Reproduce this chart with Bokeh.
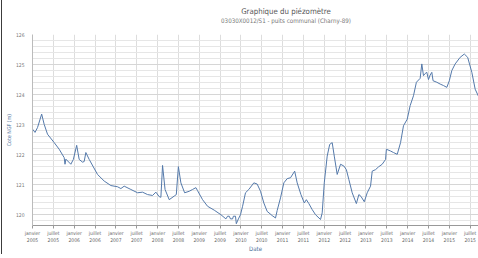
from bokeh.plotting import figure
from bokeh.models import Range1d, FixedTicker, SingleIntervalTicker, Div
from bokeh.layouts import column
from bokeh.embed import file_html
from bokeh.resources import INLINE

# --- data (decimal year, water level m NGF) ---
dates = [2005.00, 2005.06, 2005.12, 2005.22, 2005.28, 2005.36, 2005.52, 2005.64, 2005.76, 2005.78,
         2005.80, 2005.92, 2005.98, 2006.06, 2006.12, 2006.20, 2006.24, 2006.28, 2006.36, 2006.56,
         2006.72, 2006.88, 2007.04, 2007.12, 2007.20, 2007.36, 2007.52, 2007.64, 2007.76, 2007.88,
         2007.96, 2008.04, 2008.08, 2008.12, 2008.18, 2008.28, 2008.40, 2008.45, 2008.50, 2008.56,
         2008.65, 2008.76, 2008.84, 2008.92, 2008.96, 2009.08, 2009.20, 2009.36, 2009.52, 2009.64,
         2009.68, 2009.72, 2009.75, 2009.80, 2009.82, 2009.87, 2009.89, 2009.94, 2009.99, 2010.04,
         2010.11, 2010.19, 2010.31, 2010.39, 2010.47, 2010.55, 2010.63, 2010.75, 2010.83, 2010.87,
         2010.95, 2011.03, 2011.11, 2011.19, 2011.29, 2011.35, 2011.44, 2011.52, 2011.57, 2011.63,
         2011.71, 2011.79, 2011.91, 2011.95, 2012.00, 2012.07, 2012.13, 2012.19, 2012.24, 2012.31,
         2012.39, 2012.47, 2012.53, 2012.59, 2012.67, 2012.77, 2012.83, 2012.88, 2012.96, 2013.03,
         2013.11, 2013.15, 2013.23, 2013.30, 2013.39, 2013.47, 2013.49, 2013.59, 2013.66, 2013.75,
         2013.83, 2013.90, 2013.99, 2014.06, 2014.14, 2014.21, 2014.30, 2014.34, 2014.38, 2014.42,
         2014.46, 2014.50, 2014.54, 2014.58, 2014.61, 2014.70, 2014.78, 2014.86, 2014.94, 2015.00,
         2015.06, 2015.14, 2015.26, 2015.36, 2015.44, 2015.54, 2015.62, 2015.73]
levels = [122.85, 122.74, 122.90, 123.35, 123.01, 122.68, 122.40, 122.18, 121.90, 121.68,
          121.85, 121.68, 121.84, 122.31, 121.84, 121.75, 121.77, 122.07, 121.84, 121.34,
          121.12, 120.97, 120.93, 120.87, 120.95, 120.84, 120.73, 120.75, 120.67, 120.64,
          120.75, 120.60, 120.58, 121.64, 120.84, 120.50, 120.62, 120.67, 121.60, 121.06,
          120.73, 120.78, 120.84, 120.90, 120.80, 120.50, 120.28, 120.15, 120.00, 119.86,
          119.95, 119.95, 119.86, 119.86, 119.95, 119.95, 119.70, 119.86, 120.00, 120.28,
          120.73, 120.84, 121.06, 121.02, 120.78, 120.39, 120.11, 119.97, 119.89, 120.14,
          120.56, 121.06, 121.20, 121.23, 121.45, 121.06, 120.67, 120.39, 120.50, 120.37,
          120.17, 120.00, 119.84, 120.06, 121.06, 121.95, 122.34, 122.40, 121.95, 121.34,
          121.68, 121.62, 121.50, 121.17, 120.73, 120.37, 120.67, 120.61, 120.43, 120.73,
          120.95, 121.45, 121.50, 121.59, 121.68, 121.84, 122.18, 122.12, 122.07, 122.01,
          122.40, 122.96, 123.18, 123.63, 123.96, 124.41, 124.54, 125.02, 124.63, 124.70,
          124.74, 124.50, 124.65, 124.74, 124.46, 124.41, 124.35, 124.30, 124.24, 124.46,
          124.80, 125.02, 125.24, 125.35, 125.24, 124.74, 124.18, 123.85]

years = list(range(2005, 2016))
months = ["janvier", "juillet"]

title_text = "Graphique du piézomètre"
subtitle_text = "03030X0012/S1 - puits communal (Charny-89)"

FONT = "'Liberation Sans Narrow', 'DejaVu Sans Condensed', 'Open Sans', sans-serif"

header = Div(
    text=(
        f'<div style="width:220px; margin-left:174px; text-align:center; '
        f'font-family:{FONT}; white-space:nowrap;">'
        f'<div style="font-size:7.8px; line-height:8px; padding-top:8px; color:#555555;">{title_text}</div>'
        f'<div style="font-size:6.2px; line-height:7px; margin-top:1px; color:#777777;">{subtitle_text}</div>'
        f'</div>'
    ),
    width=466, height=30, margin=(0, 0, 0, 0),
)

p = figure(frame_width=446, frame_height=191, output_backend="svg", toolbar_location=None,
           x_range=Range1d(2005.0, 2015.70), y_range=Range1d(119.64, 126.0),
           min_border_left=18, min_border_right=0, min_border_top=4, min_border_bottom=0,
           margin=(0, 0, 0, 0))
p.outline_line_color = None
p.background_fill_color = "white"
p.border_fill_color = "white"

# line
p.line(dates, levels, line_color="#5479aa", line_width=1)

# x axis
tick_vals = []
overrides = {}
for yr in years:
    for i, m in enumerate(months):
        t = yr + 0.5 * i
        tick_vals.append(t)
        overrides[t] = f"{m}\n{yr}"
xa = p.xaxis[0]
xa.ticker = FixedTicker(ticks=tick_vals)
xa.major_label_overrides = overrides
xa.major_label_text_font = FONT
xa.major_label_text_font_size = "5px"
xa.major_label_text_color = "#666666"
xa.major_label_text_line_height = 1.25
xa.major_label_standoff = 1
xa.major_tick_out = 3
xa.major_tick_in = 0
xa.minor_tick_line_color = None
xa.major_tick_line_color = "#999999"
xa.axis_line_color = "#999999"
xa.axis_label = "Date"
xa.axis_label_text_font = FONT
xa.axis_label_text_font_size = "6px"
xa.axis_label_text_font_style = "normal"
xa.axis_label_text_color = "#4d6f99"
xa.axis_label_standoff = -1

# y axis
ya = p.yaxis[0]
ya.ticker = SingleIntervalTicker(interval=1, num_minor_ticks=5)
ya.major_label_text_font = FONT
ya.major_label_text_font_size = "5px"
ya.major_label_text_color = "#777777"
ya.major_label_standoff = 2
ya.major_tick_line_color = None
ya.minor_tick_line_color = None
ya.axis_line_color = "#bbbbbb"
ya.axis_label = "Cote NGF (m)"
ya.axis_label_text_font = FONT
ya.axis_label_text_font_size = "5.3px"
ya.axis_label_text_font_style = "normal"
ya.axis_label_text_color = "#4d6f99"
ya.axis_label_standoff = 1

# grids
p.xgrid.grid_line_color = "#dddddd"
p.ygrid.grid_line_color = "#d6d6d6"
p.ygrid.minor_grid_line_color = "#e6e6e6"

layout = column(header, p, spacing=0, margin=(0, 0, 0, 2),
                styles={"box-shadow": "-1px -1px 0 0 #3c3c3c"})

open("out.html", "w").write(file_html(layout, INLINE))
